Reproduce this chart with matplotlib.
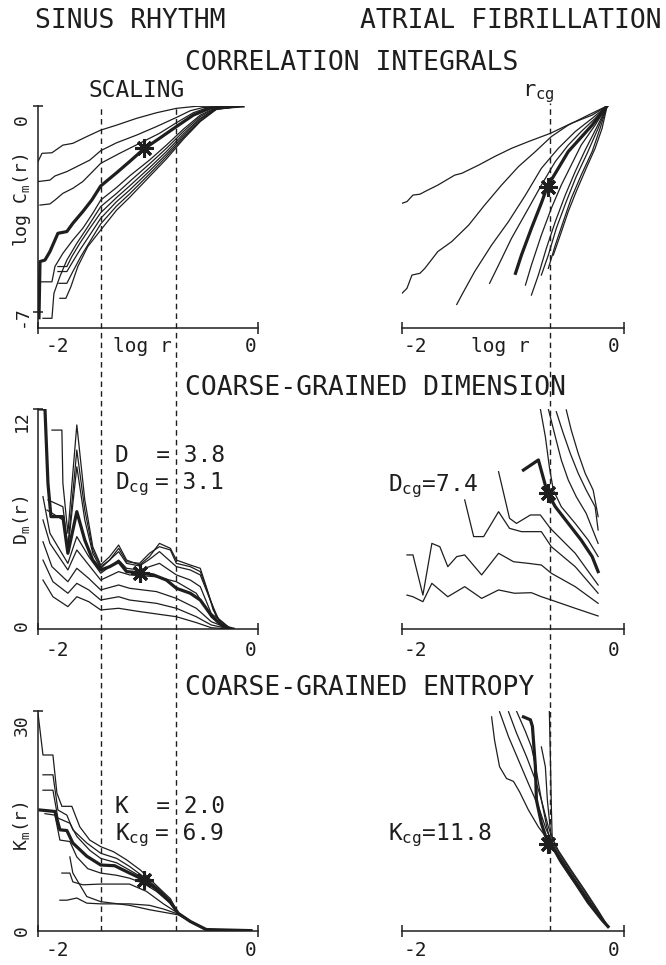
import matplotlib
matplotlib.use('Agg')
import matplotlib.pyplot as plt

plt.rcParams['font.family'] = 'DejaVu Sans Mono'
plt.rcParams['mathtext.fontset'] = 'custom'
plt.rcParams['mathtext.rm'] = 'DejaVu Sans Mono'
plt.rcParams['mathtext.it'] = 'DejaVu Sans Mono'

INK = '#1e1e1e'

# ---------------- correlation integrals, log C_m(r) vs log r ----------------
# sinus rhythm
ci_sr_x = [
    [-2.14, -2.10, -2.00, -1.89, -1.79, -1.65, -1.51, -1.35, -1.15, -0.95, -0.75, -0.55, -0.08],
    [-2.14, -2.02, -1.97, -1.85, -1.72, -1.62, -1.51, -1.35, -1.15, -0.95, -0.75, -0.61, -0.48, -0.08],
    [-2.12, -2.02, -1.97, -1.89, -1.79, -1.69, -1.51, -1.32, -1.12, -0.92, -0.75, -0.58, -0.45, -0.08],
    [-2.12, -2.00, -1.97, -1.89, -1.79, -1.69, -1.59, -1.51, -1.35, -1.22, -1.02, -0.85, -0.68, -0.51, -0.35, -0.08],
    [-2.09, -2.00, -1.98, -1.92, -1.85, -1.75, -1.65, -1.51, -1.35, -1.22, -1.02, -0.85, -0.68, -0.51, -0.35, -0.08],
    [-1.94, -1.85, -1.80, -1.72, -1.62, -1.51, -1.35, -1.22, -1.02, -0.85, -0.68, -0.51, -0.35, -0.08],
    [-1.94, -1.85, -1.79, -1.72, -1.62, -1.51, -1.35, -1.22, -1.02, -0.85, -0.68, -0.51, -0.35, -0.08],
    [-1.93, -1.85, -1.79, -1.71, -1.61, -1.51, -1.35, -1.22, -1.02, -0.85, -0.68, -0.51, -0.35, -0.08],
    [-1.92, -1.86, -1.81, -1.74, -1.64, -1.51, -1.35, -1.22, -1.02, -0.85, -0.68, -0.51, -0.35, -0.08],
]
ci_sr_y = [
    [-1.89, -1.61, -1.59, -1.33, -1.27, -1.04, -0.82, -0.65, -0.42, -0.23, -0.08, -0.01, 0.0],
    [-2.57, -2.52, -2.38, -2.23, -2.01, -1.84, -1.52, -1.25, -0.99, -0.70, -0.39, -0.16, -0.05, 0.0],
    [-3.37, -3.33, -3.20, -2.97, -2.80, -2.57, -1.95, -1.61, -1.27, -0.93, -0.57, -0.23, -0.07, 0.0],
    [-5.98, -5.98, -5.46, -5.01, -4.56, -4.16, -3.65, -3.20, -2.77, -2.38, -1.84, -1.33, -0.79, -0.31, -0.05, 0.0],
    [-7.22, -7.22, -6.37, -5.80, -5.24, -4.67, -4.16, -3.42, -2.97, -2.57, -1.97, -1.44, -0.87, -0.36, -0.07, 0.0],
    [-5.46, -5.46, -5.12, -4.67, -4.16, -3.63, -3.11, -2.72, -2.10, -1.55, -0.95, -0.42, -0.09, 0.0],
    [-5.63, -5.63, -5.29, -4.90, -4.39, -3.82, -3.25, -2.86, -2.21, -1.64, -1.02, -0.45, -0.10, 0.0],
    [-6.03, -6.03, -5.63, -5.12, -4.56, -4.01, -3.40, -2.99, -2.31, -1.72, -1.08, -0.50, -0.11, 0.0],
    [-6.54, -6.54, -6.15, -5.46, -4.78, -4.22, -3.54, -3.11, -2.40, -1.80, -1.13, -0.53, -0.12, 0.0],
]
ci_sr_bold_x = [-2.13, -2.12, -2.07, -2.02, -1.94, -1.85, -1.79, -1.69, -1.60, -1.51, -1.35, -1.22, -1.08, -0.92, -0.75, -0.58, -0.41, -0.08]
ci_sr_bold_y = [-7.20, -5.29, -5.24, -4.95, -4.33, -4.27, -3.99, -3.59, -3.20, -2.72, -2.27, -1.89, -1.47, -1.10, -0.70, -0.31, -0.07, 0.0]

# atrial fibrillation
ci_af_x = [
    [-2.13, -2.08, -2.02, -1.95, -1.90, -1.77, -1.60, -1.53, -1.36, -1.20, -1.03, -0.86, -0.64, -0.43, -0.22, -0.07],
    [-2.13, -2.08, -2.03, -1.95, -1.90, -1.77, -1.63, -1.46, -1.30, -1.13, -0.96, -0.79, -0.63, -0.46, -0.26, -0.07],
    [-1.58, -1.53, -1.40, -1.23, -1.06, -0.89, -0.73, -0.56, -0.39, -0.22, -0.07],
    [-1.25, -1.16, -1.03, -0.86, -0.73, -0.59, -0.46, -0.33, -0.19, -0.07],
    [-0.89, -0.83, -0.73, -0.63, -0.53, -0.43, -0.33, -0.19, -0.07],
    [-0.83, -0.76, -0.68, -0.59, -0.49, -0.39, -0.29, -0.17, -0.07],
    [-0.73, -0.66, -0.58, -0.48, -0.38, -0.27, -0.16, -0.07],
    [-0.66, -0.59, -0.51, -0.43, -0.33, -0.22, -0.14, -0.07],
    [-0.61, -0.54, -0.46, -0.38, -0.28, -0.19, -0.12, -0.07],
]
ci_af_y = [
    [-3.31, -3.25, -3.03, -3.00, -2.91, -2.69, -2.35, -2.29, -2.01, -1.72, -1.44, -1.21, -0.93, -0.59, -0.31, 0.0],
    [-6.37, -6.20, -5.75, -5.69, -5.52, -4.95, -4.61, -4.05, -3.37, -2.69, -2.06, -1.55, -1.04, -0.65, -0.31, 0.0],
    [-6.75, -6.43, -5.63, -4.73, -3.93, -3.03, -2.12, -1.44, -0.87, -0.42, 0.0],
    [-6.03, -5.41, -4.50, -3.48, -2.69, -1.89, -1.33, -0.87, -0.42, 0.0],
    [-6.09, -5.41, -4.39, -3.48, -2.69, -2.01, -1.33, -0.65, 0.0],
    [-6.43, -5.75, -4.84, -3.93, -3.03, -2.23, -1.50, -0.70, 0.0],
    [-5.75, -5.07, -4.16, -3.25, -2.40, -1.61, -0.76, 0.0],
    [-5.52, -4.73, -3.93, -3.14, -2.35, -1.55, -0.76, 0.0],
    [-5.07, -4.39, -3.59, -2.91, -2.12, -1.44, -0.76, 0.0],
]
ci_af_bold_x = [-0.99, -0.93, -0.83, -0.73, -0.67, -0.56, -0.46, -0.34, -0.22, -0.07]
ci_af_bold_y = [-5.69, -5.07, -4.16, -3.30, -2.74, -2.12, -1.55, -1.10, -0.65, 0.0]

# ---------------- coarse-grained dimension D_m(r) ----------------
d_sr_x = [
    [-2.00, -1.90, -1.89, -1.84, -1.75, -1.67, -1.59, -1.51, -1.42, -1.33, -1.25, -1.12, -1.02, -0.92, -0.81, -0.75, -0.61, -0.51, -0.45, -0.38, -0.28, -0.18],
    [-2.04, -1.89, -1.84, -1.75, -1.67, -1.59, -1.51, -1.42, -1.33, -1.25, -1.12, -1.02, -0.92, -0.81, -0.75, -0.61, -0.51, -0.43, -0.35, -0.21],
    [-2.05, -1.89, -1.84, -1.75, -1.67, -1.59, -1.51, -1.33, -1.25, -1.12, -1.02, -0.92, -0.75, -0.61, -0.51, -0.41, -0.31, -0.19],
    [-2.09, -2.02, -1.84, -1.75, -1.63, -1.51, -1.33, -1.25, -1.12, -0.92, -0.75, -0.61, -0.51, -0.40, -0.21],
    [-2.09, -2.02, -1.84, -1.75, -1.63, -1.51, -1.33, -1.22, -0.95, -0.75, -0.55, -0.40, -0.21],
    [-2.09, -2.00, -1.84, -1.75, -1.63, -1.51, -1.33, -1.22, -0.95, -0.75, -0.55, -0.40, -0.21],
    [-2.09, -1.99, -1.84, -1.75, -1.63, -1.51, -1.33, -1.22, -0.95, -0.75, -0.55, -0.40, -0.21],
    [-2.09, -1.99, -1.84, -1.75, -1.63, -1.51, -1.33, -1.12, -0.75, -0.55, -0.40, -0.21],
]
d_sr_y = [
    [10.85, 10.85, 7.95, 5.22, 11.13, 7.04, 4.49, 3.49, 3.95, 4.58, 3.76, 3.49, 3.95, 4.67, 4.40, 3.76, 3.49, 3.31, 2.31, 1.04, 0.13, 0.0],
    [7.04, 6.67, 4.49, 9.76, 6.49, 4.31, 3.40, 3.76, 4.40, 3.67, 3.58, 4.13, 4.49, 4.31, 3.58, 3.40, 3.13, 1.95, 0.67, 0.04],
    [6.49, 5.95, 4.31, 8.85, 5.95, 4.13, 3.31, 4.22, 3.58, 3.44, 3.80, 4.22, 3.40, 3.22, 2.95, 1.58, 0.31, 0.0],
    [7.22, 5.22, 3.58, 5.04, 3.95, 3.04, 3.76, 3.31, 3.22, 3.58, 2.95, 2.67, 2.31, 0.85, 0.0],
    [5.95, 4.67, 3.22, 4.31, 3.49, 2.67, 3.13, 2.95, 2.85, 2.58, 1.95, 0.67, 0.0],
    [4.76, 3.40, 2.58, 3.31, 2.76, 2.13, 2.40, 2.22, 2.04, 1.67, 1.13, 0.40, 0.0],
    [3.76, 2.58, 1.95, 2.49, 2.13, 1.58, 1.76, 1.58, 1.40, 1.13, 0.67, 0.22, 0.0],
    [2.67, 1.76, 1.22, 1.76, 1.49, 1.04, 1.13, 0.95, 0.67, 0.35, 0.07, 0.0],
]
d_sr_bold_x = [-2.12, -2.07, -2.04, -2.01, -1.89, -1.84, -1.75, -1.67, -1.59, -1.51, -1.42, -1.33, -1.25, -1.12, -0.98, -0.85, -0.75, -0.61, -0.51, -0.39, -0.28, -0.18]
d_sr_bold_y = [12.0, 12.0, 7.95, 6.13, 6.13, 4.13, 6.40, 4.85, 3.76, 3.22, 3.40, 3.67, 3.13, 3.07, 2.95, 2.67, 2.22, 1.95, 1.58, 0.67, 0.13, 0.0]

d_af_x = [
    [-2.08, -2.02, -1.92, -1.83, -1.67, -1.50, -1.33, -1.16, -1.00, -0.83, -0.73, -0.63, -0.39, -0.16],
    [-2.08, -2.02, -1.92, -1.83, -1.75, -1.67, -1.58, -1.50, -1.33, -1.16, -1.01, -0.86, -0.73, -0.63, -0.39, -0.16],
    [-1.50, -1.41, -1.31, -1.16, -1.05, -0.93, -0.73, -0.63, -0.39, -0.16],
    [-1.16, -1.05, -0.98, -0.84, -0.74, -0.64, -0.39, -0.16],
    [-0.74, -0.69, -0.65, -0.61, -0.53, -0.39, -0.26, -0.16],
    [-0.66, -0.59, -0.53, -0.46, -0.38, -0.28, -0.16],
    [-0.58, -0.51, -0.44, -0.36, -0.28, -0.19, -0.16],
    [-0.48, -0.43, -0.36, -0.29, -0.21, -0.16],
]
d_af_y = [
    [1.85, 1.76, 1.49, 2.49, 1.76, 2.31, 1.67, 2.13, 1.95, 1.98, 1.76, 1.58, 1.13, 0.71],
    [4.04, 4.04, 1.85, 4.67, 4.49, 3.40, 3.95, 4.04, 2.95, 4.13, 3.67, 3.58, 3.49, 3.04, 2.31, 1.40],
    [7.04, 5.04, 5.04, 6.40, 5.49, 5.31, 5.31, 4.49, 3.40, 1.95],
    [8.58, 6.04, 5.76, 6.22, 6.22, 5.49, 4.13, 2.40],
    [12.0, 10.49, 8.85, 7.58, 6.67, 5.76, 4.85, 3.95],
    [12.0, 10.49, 9.22, 8.13, 7.22, 6.31, 4.67],
    [11.85, 10.67, 9.58, 8.49, 7.58, 6.67, 5.40],
    [11.95, 10.85, 9.58, 8.49, 7.58, 6.13],
]
d_af_bold_x = [-0.91, -0.76, -0.67, -0.59, -0.46, -0.33, -0.22, -0.16]
d_af_bold_y = [8.67, 9.22, 7.44, 6.67, 5.76, 4.85, 3.95, 3.13]

# ---------------- coarse-grained entropy K_m(r) ----------------
k_sr_x = [
    [-2.14, -2.09, -1.99, -1.95, -1.90, -1.80, -1.72, -1.62, -1.51, -1.38, -1.25, -1.11, -0.95, -0.81, -0.73, -0.61, -0.45, 0.0],
    [-2.09, -1.99, -1.94, -1.85, -1.79, -1.65, -1.51, -1.35, -1.22, -1.08, -0.95, -0.81, -0.73, -0.61, -0.45, 0.0],
    [-2.09, -1.99, -1.94, -1.82, -1.75, -1.62, -1.51, -1.35, -1.22, -1.08, -0.95, -0.81, -0.73, -0.61, -0.45, 0.0],
    [-2.07, -1.97, -1.92, -1.82, -1.75, -1.64, -1.51, -1.35, -1.22, -1.08, -0.95, -0.81, -0.73, -0.61, -0.45, 0.0],
    [-1.90, -1.82, -1.79, -1.69, -1.51, -1.22, -1.05, -0.88, -0.73, -0.61, -0.45, 0.0],
    [-1.92, -1.85, -1.75, -1.65, -1.51, -1.22, -1.02, -0.88, -0.73, -0.61, -0.45, 0.0],
    [-1.82, -1.79, -1.65, -1.51, -1.22, -1.02, -0.73, -0.61, -0.45, 0.0],
]
k_sr_y = [
    [29.7, 24.0, 24.0, 18.8, 17.0, 17.0, 14.2, 12.4, 11.5, 10.8, 9.7, 8.3, 6.2, 4.4, 2.4, 1.3, 0.2, 0.05],
    [21.3, 21.3, 16.5, 15.8, 13.8, 12.0, 10.6, 9.9, 8.8, 7.4, 6.0, 4.2, 2.4, 1.3, 0.2, 0.05],
    [19.2, 19.2, 15.4, 14.7, 12.9, 11.0, 9.9, 9.3, 8.3, 7.2, 5.8, 3.9, 2.4, 1.3, 0.2, 0.05],
    [16.0, 15.8, 12.4, 12.2, 10.1, 8.5, 7.9, 7.6, 7.2, 6.5, 5.4, 3.8, 2.4, 1.3, 0.2, 0.05],
    [7.9, 7.9, 6.7, 6.3, 6.4, 6.4, 5.4, 3.7, 2.4, 1.3, 0.2, 0.05],
    [4.2, 4.2, 4.5, 3.8, 3.7, 3.7, 3.5, 3.0, 2.3, 1.3, 0.2, 0.05],
    [10.1, 7.9, 4.7, 4.0, 3.5, 2.9, 2.2, 1.3, 0.2, 0.05],
]
k_sr_bold_x = [-2.12, -1.97, -1.92, -1.85, -1.79, -1.65, -1.51, -1.37, -1.22, -1.08, -0.95, -0.81, -0.73, -0.61, -0.45, 0.0]
k_sr_bold_y = [16.5, 16.3, 13.8, 13.7, 12.0, 10.2, 9.0, 8.9, 7.9, 7.0, 5.7, 3.9, 2.4, 1.3, 0.2, 0.05]

k_af_x = [
    [-1.23, -1.20, -1.15, -1.08, -1.01, -0.95, -0.86, -0.76, -0.66, -0.56, -0.43, -0.29, -0.16, -0.06],
    [-1.15, -1.06, -0.96, -0.86, -0.76, -0.68, -0.63, -0.56, -0.43, -0.29, -0.16, -0.06],
    [-1.06, -0.98, -0.88, -0.79, -0.73, -0.66, -0.61, -0.56, -0.43, -0.29, -0.16, -0.06],
    [-0.98, -0.89, -0.83, -0.79, -0.73, -0.68, -0.64, -0.56, -0.43, -0.29, -0.16, -0.06],
    [-0.73, -0.69, -0.67, -0.64, -0.63, -0.56, -0.43, -0.29, -0.16, -0.06],
    [-0.65, -0.64, -0.63, -0.62, -0.56, -0.43, -0.29, -0.16, -0.06],
]
k_af_y = [
    [29.2, 26.0, 22.4, 20.8, 20.4, 19.0, 16.5, 14.2, 12.4, 10.4, 7.7, 4.9, 2.3, 0.6],
    [29.9, 26.5, 23.3, 20.1, 17.0, 13.8, 12.4, 10.8, 8.1, 5.3, 2.6, 0.6],
    [29.9, 27.0, 23.8, 20.6, 17.9, 14.2, 12.4, 11.0, 8.3, 5.5, 2.8, 0.6],
    [30.0, 27.2, 25.1, 22.6, 17.9, 14.5, 12.2, 10.5, 7.8, 5.0, 2.4, 0.6],
    [25.1, 22.4, 17.9, 13.8, 12.0, 10.2, 7.5, 4.8, 2.2, 0.6],
    [30.0, 24.0, 17.0, 12.0, 9.9, 7.2, 4.6, 2.1, 0.6],
]
k_af_bold_x = [-0.91, -0.84, -0.82, -0.79, -0.78, -0.73, -0.68, -0.63, -0.53, -0.39, -0.26, -0.12, -0.06]
k_af_bold_y = [29.2, 28.8, 27.9, 22.4, 17.9, 14.7, 12.6, 11.8, 9.4, 6.6, 3.9, 1.5, 0.6]

# coarse-grained points (asterisks)
star_sr = {'ci': (-1.08, -1.44), 'd': (-1.12, 3.07), 'k': (-1.08, 6.95)}
star_af = {'ci': (-0.667, -2.74), 'd': (-0.667, 7.44), 'k': (-0.66, 11.8)}

scaling_range = [-1.51, -0.75]   # sinus rhythm scaling region
r_cg = -0.64                     # atrial fibrillation coarse-grain radius

# ---------------- figure ----------------
W, H = 666, 965
fig = plt.figure(figsize=(W / 100, H / 100), dpi=100)


def box(x0, y0, x1, y1):
    return [x0 / W, 1 - y1 / H, (x1 - x0) / W, (y1 - y0) / H]


XL_SR = (-2.14, 0.07)
XL_AF = (-2.13, 0.10)


def style(ax, xlim, ylim, left_axis, yticks=()):
    ax.set_xlim(xlim)
    ax.set_ylim(ylim)
    ax.patch.set_alpha(0)
    for s in ['top', 'right']:
        ax.spines[s].set_visible(False)
    ax.spines['left'].set_visible(left_axis)
    for s in ['left', 'bottom']:
        ax.spines[s].set_color(INK)
        ax.spines[s].set_linewidth(1.1)
    ax.set_xticks(list(xlim))
    ax.tick_params(axis='x', direction='inout', length=8, width=1.1, color=INK, labelbottom=False)
    ax.set_yticks(list(yticks))
    ax.tick_params(axis='y', direction='inout', length=7, width=1.1, color=INK, labelleft=False)


def draw(ax, xs, ys, bx, by, star):
    for x, y in zip(xs, ys):
        ax.plot(x, y, color=INK, lw=0.9)
    ax.plot(bx, by, color=INK, lw=2.3)
    ax.plot([star[0]], [star[1]], ls='none', marker=(8, 2, 0), ms=13, mew=2.2, color=INK)


def xlabels(ax, vals, labels, shifts, dy):
    for v, s, dx in zip(vals, labels, shifts):
        ax.annotate(s, xy=(v, 0), xycoords=('data', 'axes fraction'), xytext=(dx, dy),
                    textcoords='offset pixels', ha='center', va='center', fontsize=14, color=INK)


def ylabels(ax, vals, labels, shifts, fs=13):
    for v, s, dy in zip(vals, labels, shifts):
        ax.annotate(s, xy=(0, v), xycoords=('axes fraction', 'data'), xytext=(-16, dy),
                    textcoords='offset pixels', rotation=90, ha='center', va='center',
                    fontsize=fs, color=INK)


ax1 = fig.add_axes(box(38, 106, 258, 328))
ax2 = fig.add_axes(box(402, 106, 624, 328))
ax3 = fig.add_axes(box(38, 409, 258, 629))
ax4 = fig.add_axes(box(402, 409, 624, 629))
ax5 = fig.add_axes(box(38, 711, 258, 931))
ax6 = fig.add_axes(box(402, 711, 624, 931))

style(ax1, XL_SR, (-7.55, 0), True, (0, -7))
style(ax2, XL_AF, (-7.55, 0), False)
style(ax3, XL_SR, (0, 12), True, (12,))
style(ax4, XL_AF, (0, 12), False)
style(ax5, XL_SR, (0, 30), True, (30,))
style(ax6, XL_AF, (0, 30), False)

draw(ax1, ci_sr_x, ci_sr_y, ci_sr_bold_x, ci_sr_bold_y, star_sr['ci'])
draw(ax2, ci_af_x, ci_af_y, ci_af_bold_x, ci_af_bold_y, star_af['ci'])
draw(ax3, d_sr_x, d_sr_y, d_sr_bold_x, d_sr_bold_y, star_sr['d'])
draw(ax4, d_af_x, d_af_y, d_af_bold_x, d_af_bold_y, star_af['d'])
draw(ax5, k_sr_x, k_sr_y, k_sr_bold_x, k_sr_bold_y, star_sr['k'])
draw(ax6, k_af_x, k_af_y, k_af_bold_x, k_af_bold_y, star_af['k'])

# tick labels
xlabels(ax1, [-2, -1.095, 0], ['-2', 'log r', '0'], [5, 0, 0], -19)
xlabels(ax2, [-2, -1.146, 0], ['-2', 'log r', '0'], [0, 0, 0], -19)
xlabels(ax3, [-2, 0], ['-2', '0'], [5, 0], -21)
xlabels(ax4, [-2, 0], ['-2', '0'], [0, 0], -21)
xlabels(ax5, [-2, 0], ['-2', '0'], [5, 0], -20)
xlabels(ax6, [-2, 0], ['-2', '0'], [0, 0], -20)

ylabels(ax1, [0, -7], ['0', '-7'], [-14, -4])
ylabels(ax3, [12, 0], ['12', '0'], [-12, 3])
ylabels(ax5, [30, 0], ['30', '0'], [-14, 0])
ylabels(ax1, [-3.2], [r'log C$_{\rm m}$(r)'], [0])
ylabels(ax3, [5.95], [r'D$_{\rm m}$(r)'], [0])
ylabels(ax5, [14.3], [r'K$_{\rm m}$(r)'], [0])

# dashed reference lines running through all three rows
ovl = fig.add_axes(box(38, 106, 258, 931))
ovr = fig.add_axes(box(402, 103, 624, 931))
for ov, xl in [(ovl, XL_SR), (ovr, XL_AF)]:
    ov.set_xlim(xl)
    ov.set_ylim(0, 1)
    ov.axis('off')
for xv in scaling_range:
    ovl.axvline(xv, color=INK, lw=1.0, ls=(0, (4, 3)))
ovr.axvline(r_cg, color=INK, lw=1.0, ls=(0, (4, 3)))

# annotations inside panels
fsa = 16.5
ax3.text(-1.367, 9.11, 'D  = 3.8', fontsize=fsa, color=INK, va='baseline')
ax3.text(-1.367, 7.64, r'D$_{\rm cg}$', fontsize=fsa, color=INK, va='baseline')
ax3.text(-0.96, 7.64, '= 3.1', fontsize=fsa, color=INK, va='baseline')
ax4.text(-2.27, 7.53, r'D$_{\rm cg}$=7.4', fontsize=fsa, color=INK, va='baseline')
ax5.text(-1.367, 16.09, 'K  = 2.0', fontsize=fsa, color=INK, va='baseline')
ax5.text(-1.367, 12.41, r'K$_{\rm cg}$', fontsize=fsa, color=INK, va='baseline')
ax5.text(-0.96, 12.41, '= 6.9', fontsize=fsa, color=INK, va='baseline')
ax6.text(-2.27, 12.41, r'K$_{\rm cg}$=11.8', fontsize=fsa, color=INK, va='baseline')

# headings
fst = 19
fig.text(35 / W, 1 - 28 / H, 'SINUS RHYTHM', fontsize=fst, color=INK, va='baseline')
fig.text(360 / W, 1 - 28 / H, 'ATRIAL FIBRILLATION', fontsize=fst, color=INK, va='baseline')
fig.text(185 / W, 1 - 70 / H, 'CORRELATION INTEGRALS', fontsize=fst, color=INK, va='baseline')
fig.text(88 / W, 1 - 97 / H, 'SCALING', fontsize=16.5, color=INK, va='baseline')
fig.text(522 / W, 1 - 96 / H, r'r$_{\rm cg}$', fontsize=16, color=INK, va='baseline')
fig.text(185 / W, 1 - 395 / H, 'COARSE-GRAINED DIMENSION', fontsize=fst, color=INK, va='baseline')
fig.text(185 / W, 1 - 695 / H, 'COARSE-GRAINED ENTROPY', fontsize=fst, color=INK, va='baseline')

fig.savefig('out.png', dpi=100, facecolor='white')
